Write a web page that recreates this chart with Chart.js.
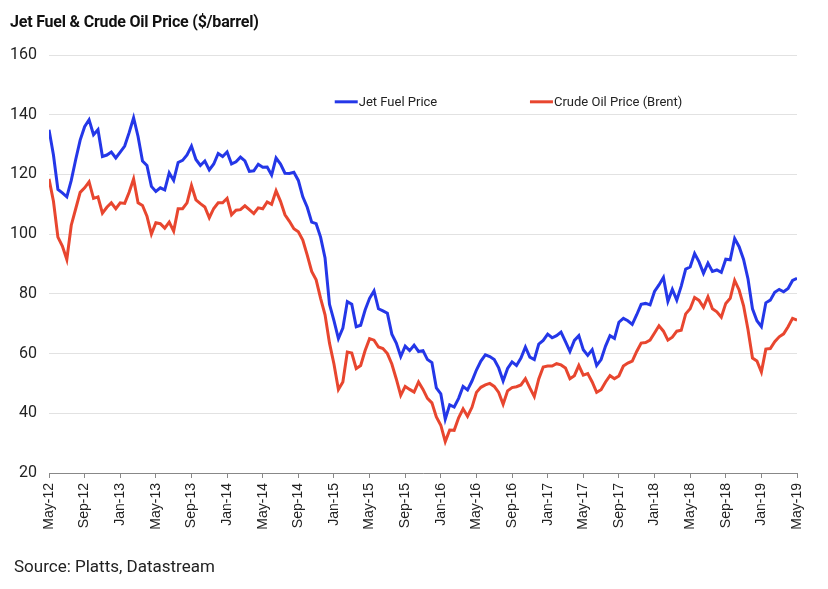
<!DOCTYPE html>
<html>
<head>
<meta charset="utf-8">
<script src="https://cdn.jsdelivr.net/npm/chart.js@4.4.1/dist/chart.umd.min.js"></script>
<style>
html,body{margin:0;padding:0;background:#fff;width:828px;height:589px;overflow:hidden;}
#wrap{position:relative;width:828px;height:589px;}
canvas{position:absolute;left:0;top:0;}
#title{position:absolute;left:10px;top:12px;font:bold 16px Roboto,sans-serif;letter-spacing:-0.2px;color:#111;white-space:nowrap;}
#source{position:absolute;left:14px;top:556px;font:17px Roboto,sans-serif;color:#222;white-space:nowrap;}
</style>
</head>
<body>
<div id="wrap">
<canvas id="c" width="828" height="589"></canvas>
<div id="title">Jet Fuel &amp; Crude Oil Price ($/barrel)</div>
<div id="source">Source: Platts, Datastream</div>
</div>
<script>
// Tick labels every 4 months (data points are half-monthly, May-12 .. May-19)
const tickLabels = ["May-12","Sep-12","Jan-13","May-13","Sep-13","Jan-14","May-14","Sep-14","Jan-15","May-15","Sep-15","Jan-16","May-16","Sep-16","Jan-17","May-17","Sep-17","Jan-18","May-18","Sep-18","Jan-19","May-19"];
const seriesNames = ["Jet Fuel Price","Crude Oil Price (Brent)"];

const jetFuel = [
135,126.5,115,113.8,112.5,118,125,131.5,136,138.3,133.3,135,126,126.5,127.5,125.5,
127.5,129.5,134,139,132.7,124.5,123,116,114.3,115.5,114.8,120.5,118,124,124.7,126.5,
129.5,125,123,124.5,121.5,123.5,127,126,127.5,123.5,124.2,125.8,124.5,121,121.2,123.4,
122.4,122.5,119.8,125.5,123.5,120.4,120.3,120.7,118,112.5,109,104,103.5,99,92,76.5,
71,65,68.5,77.4,76.5,69,69.5,74.6,78.5,81,75,74.3,73.5,66.5,63.5,59,
62.5,61,62.8,60.7,61,58,57,48.5,46.5,38,42.8,42.1,45,49,47.8,50.8,
54.5,57.5,59.6,59,58,55.2,50.8,55,57.2,56,58.5,62.2,58.8,58,63.2,64.4,
66.5,65.3,66,67.2,64,60.7,64.4,66,61.3,59.4,61.3,56,58,62.5,66,65.1,
70.5,71.8,71,69.8,73,76.5,76.8,76.3,80.8,83,85.5,77.5,81.5,77.9,82.6,88.3,
89,93.5,90.7,86.9,90.3,87.5,88,87.2,91.6,91.4,98.5,95.8,91.5,85,75,71,
69,77,77.9,80.5,81.5,80.7,81.8,84.5,85.2
];

const brentCrude = [
118.5,111,99,96,91.5,103,108.5,114,115.5,117.5,112,112.5,107,109,110.5,108.5,
110.5,110.3,114,118.5,110.5,109.6,106,100,103.8,103.5,102,104,101,108.5,108.5,110.5,
116.3,111.5,110.2,109.1,105.5,108.6,110.5,110.5,112,106.5,108,108.2,109.5,108.2,106.9,108.8,
108.5,110.8,110,114.5,111,106.5,104.3,101.8,100.8,98,93,87.5,84.7,78.5,73,63.5,
56.5,48,50.5,60.5,60.2,55,56,61,65,64.5,62.2,61.7,60,56.5,51.5,46,
49,48,47.1,50.5,48,45,43.5,38.8,36,30.5,34.4,34.3,38.5,41.5,39,42,
47,48.7,49.5,50,49,47,43,47.5,48.6,48.9,49.5,51.6,48.5,45.6,51.5,55.5,
55.8,55.8,56.6,56.2,55.2,51.6,52.6,56,52.8,53.3,50.5,47,47.9,50.5,52.6,51.6,
52.5,55.8,56.8,57.5,60.7,63.5,63.7,64.5,66.9,69.3,67.5,64.5,65.5,67.5,67.8,73.3,
75,78.8,77.8,75.5,79,75,74,72.2,76.8,78.5,84.5,81.3,76,68,58.5,57.5,
53.8,61.5,61.7,64,65.6,66.6,69,71.8,71.2
];

const pointsPerTick = 8;
const toXY = arr => arr.map((v, i) => ({x: i, y: v}));

const legendX = [0.382, 0.643];
const inlineLegend = {
  id: 'inlineLegend',
  afterDraw(chart) {
    const {ctx, chartArea: a} = chart;
    const y = a.top + 0.112 * (a.bottom - a.top);
    chart.data.datasets.forEach((ds, k) => {
      const x = a.left + legendX[k] * (a.right - a.left);
      ctx.save();
      ctx.strokeStyle = ds.borderColor;
      ctx.lineWidth = 3;
      ctx.beginPath();
      ctx.moveTo(x, y);
      ctx.lineTo(x + 23, y);
      ctx.stroke();
      ctx.fillStyle = '#222';
      ctx.font = '13px Roboto, sans-serif';
      ctx.textBaseline = 'middle';
      ctx.fillText(ds.label, x + 24, y + 0.5);
      ctx.restore();
    });
  }
};

new Chart(document.getElementById('c'), {
  type: 'line',
  data: {
    datasets: [
      {label: seriesNames[0], data: toXY(jetFuel), borderColor: '#2437E8', backgroundColor: '#2437E8', borderWidth: 3, pointRadius: 0, tension: 0, fill: false},
      {label: seriesNames[1], data: toXY(brentCrude), borderColor: '#E8462F', backgroundColor: '#E8462F', borderWidth: 3, pointRadius: 0, tension: 0, fill: false}
    ]
  },
  options: {
    responsive: false,
    animation: false,
    layout: {padding: {top: 55, right: 31, left: 0, bottom: 0}},
    plugins: {legend: {display: false}, tooltip: {enabled: false}, title: {display: false}},
    scales: {
      x: {
        type: 'linear',
        min: 0,
        max: (tickLabels.length - 1) * pointsPerTick,
        afterFit: s => { s.height = 116; },
        ticks: {
          stepSize: pointsPerTick,
          autoSkip: false,
          maxRotation: 90,
          minRotation: 90,
          padding: 5,
          color: '#222',
          font: {family: 'Liberation Sans, Arial, sans-serif', size: 14},
          callback: v => tickLabels[Math.round(v / pointsPerTick)]
        },
        grid: {drawOnChartArea: false, drawTicks: true, tickLength: 5, color: '#888'},
        border: {display: true, color: '#888', width: 1}
      },
      y: {
        min: 20,
        max: 160,
        afterFit: s => { s.width = 49; },
        ticks: {stepSize: 20, padding: 12, color: '#222', font: {family: 'Roboto, sans-serif', size: 16}},
        grid: {color: '#e2e2e2', drawTicks: false, lineWidth: 1},
        border: {display: false}
      }
    }
  },
  plugins: [inlineLegend]
});
</script>
</body>
</html>
